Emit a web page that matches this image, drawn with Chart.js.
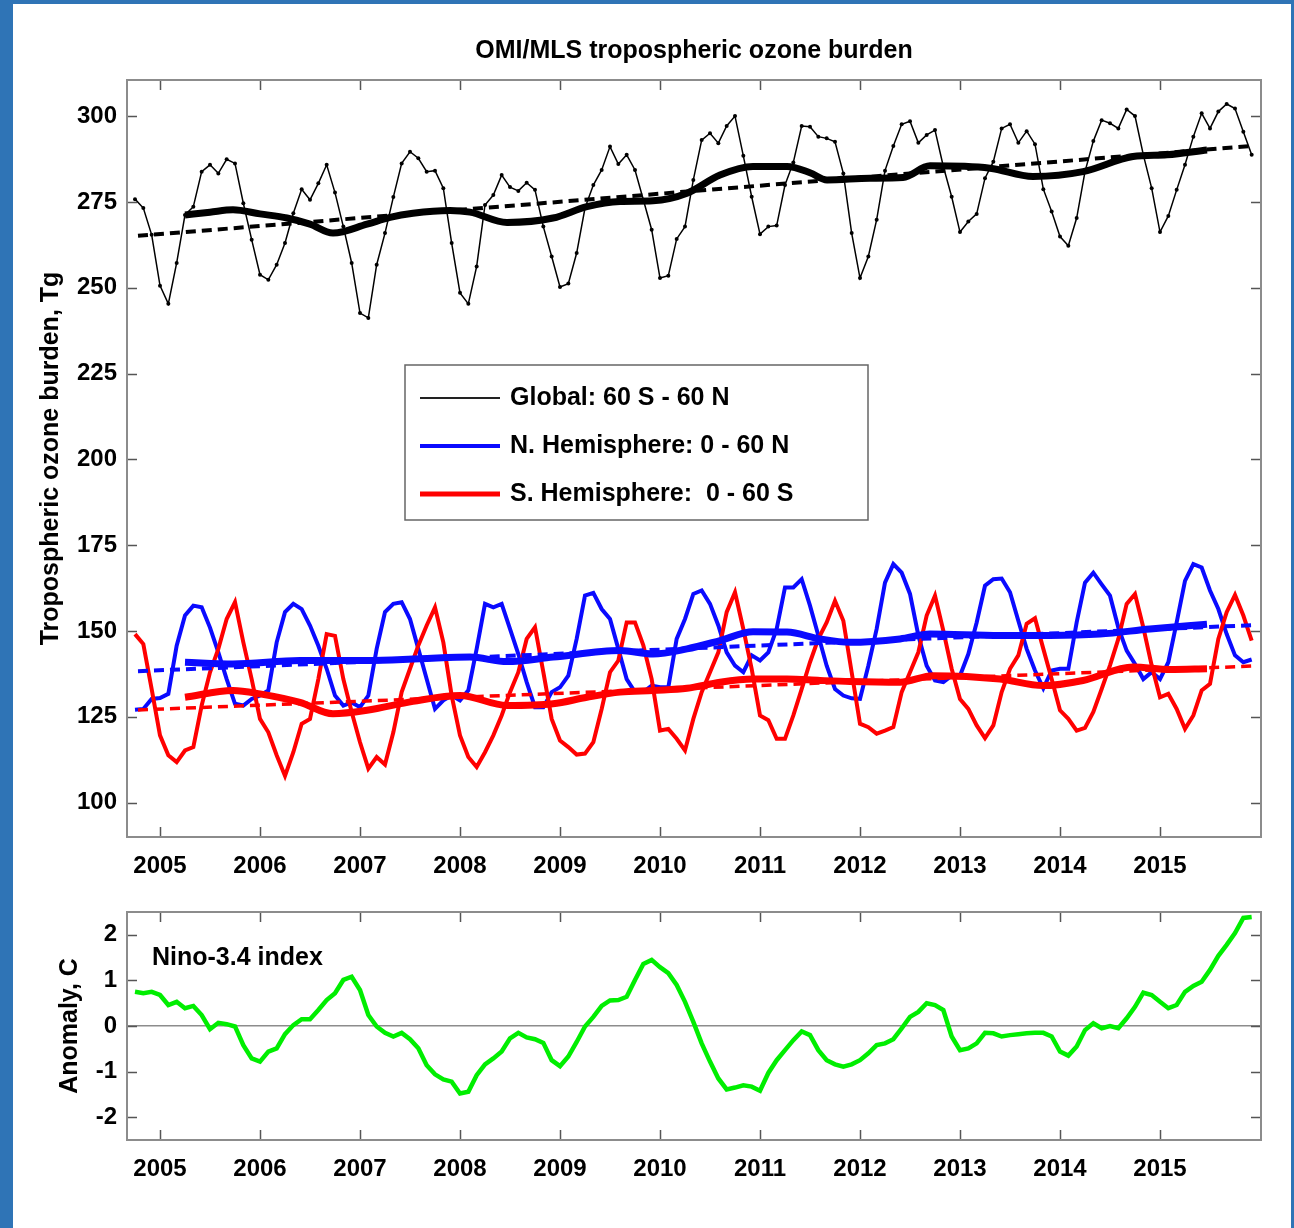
<!DOCTYPE html>
<html>
<head>
<meta charset="utf-8">
<title>OMI/MLS tropospheric ozone burden</title>
<script src="https://cdn.jsdelivr.net/npm/chart.js@4.4.1/dist/chart.umd.min.js"></script>
<style>
  html, body { margin: 0; padding: 0; }
  body { position: relative; width: 1294px; height: 1228px; background: #2f74b6; overflow: hidden; }
  #sheet { position: absolute; left: 13px; top: 4px; width: 1278px; height: 1224px; background: #fff; }
  canvas { position: absolute; left: 0; }
  #ozoneChart { top: 0; }
  #ninoChart { top: 880px; }
</style>
</head>
<body>
<div id="sheet"></div>
<canvas id="ozoneChart" width="1294" height="900"></canvas>
<canvas id="ninoChart" width="1294" height="348"></canvas>
<script>
// monthly values, Oct 2004 .. Dec 2015
const globalBurden = [
  275.8, 273.2, 265.4,
  250.6, 245.3, 257.2, 271.2, 273.6, 283.8, 285.8, 283.3, 287.4, 286.2, 274.6, 264.0,
  253.8, 252.3, 256.7, 263.0, 271.7, 278.7, 275.6, 280.4, 285.8, 277.7, 267.8, 257.2,
  242.6, 241.2, 256.7, 265.9, 276.4, 286.2, 289.6, 287.7, 283.8, 284.1, 279.0, 263.0,
  248.5, 245.3, 256.2, 274.1, 277.0, 282.8, 279.3, 278.2, 280.6, 278.5, 267.8, 259.1,
  250.2, 251.2, 260.1, 273.2, 279.9, 284.3, 291.1, 286.0, 288.7, 284.3, 275.6, 266.9,
  252.8, 253.5, 264.2, 267.8, 281.4, 293.0, 295.0, 292.1, 297.1, 300.0, 288.4, 276.5,
  265.6, 267.8, 268.1, 279.9, 286.5, 297.1, 296.9, 294.0, 293.5, 292.5, 283.3, 265.9,
  252.8, 259.1, 269.8, 284.1, 291.3, 297.6, 298.5, 292.2, 294.5, 295.9, 285.3, 276.5,
  266.2, 269.3, 271.5, 281.9, 286.7, 296.4, 297.6, 292.2, 295.6, 291.8, 278.7, 272.2,
  264.9, 262.2, 270.3, 283.8, 292.7, 298.8, 297.9, 296.4, 301.9, 300.0, 288.7, 279.0,
  266.2, 270.9, 278.5, 285.8, 294.0, 300.8, 296.4, 301.3, 303.5, 302.2, 295.4, 288.7
]

const nhBurden = [
  127.1, 127.3, 130.2,
  130.5, 131.7, 145.7, 154.5, 157.4, 156.9, 151.0, 143.8, 136.0, 128.8, 128.3, 130.2,
  131.2, 132.7, 146.7, 155.5, 157.9, 156.4, 151.6, 145.7, 139.0, 131.2, 128.3, 129.2,
  127.8, 131.2, 144.8, 155.5, 157.9, 158.4, 153.5, 144.8, 136.0, 127.3, 129.8, 131.2,
  129.8, 132.7, 144.8, 157.9, 156.9, 157.9, 150.6, 143.3, 135.1, 127.8, 127.8, 132.2,
  133.6, 137.0, 147.7, 160.3, 161.1, 156.4, 153.5, 144.8, 136.0, 132.2, 132.2, 134.1,
  133.6, 133.6, 147.7, 153.5, 160.8, 161.8, 157.9, 151.6, 143.8, 139.9, 138.0, 142.9,
  141.4, 143.8, 150.6, 162.7, 162.7, 165.1, 157.4, 148.7, 139.9, 133.1, 131.2, 130.4,
  130.2, 139.9, 150.6, 164.1, 169.5, 167.0, 160.8, 148.7, 139.9, 135.6, 135.1, 137.0,
  137.0, 143.3, 152.5, 163.2, 165.1, 165.3, 161.3, 153.0, 144.8, 138.5, 133.3, 138.5,
  139.0, 139.0, 152.5, 164.1, 167.0, 163.6, 160.3, 151.0, 144.3, 140.4, 136.0, 138.0,
  136.0, 140.9, 152.5, 164.6, 169.5, 168.5, 161.8, 156.4, 149.1, 142.9, 140.9, 141.7
]

const shBurden = [
  149.1, 146.2, 133.1,
  119.6, 113.8, 111.8, 115.2, 116.2, 128.3, 138.0, 144.8, 153.5, 158.4, 146.7, 136.0,
  124.4, 120.5, 113.8, 107.8, 114.7, 123.0, 124.4, 136.0, 149.1, 148.6, 136.0, 126.4,
  117.6, 109.9, 113.3, 111.1, 120.5, 132.2, 139.0, 145.8, 151.6, 156.9, 146.7, 131.2,
  119.6, 113.3, 110.4, 114.7, 119.6, 125.4, 132.2, 138.0, 147.7, 151.1, 138.0, 124.4,
  118.1, 116.2, 114.0, 114.3, 117.6, 127.3, 138.0, 141.4, 152.5, 152.5, 145.8, 136.0,
  121.0, 121.5, 118.6, 115.2, 124.4, 132.2, 138.0, 143.8, 155.5, 161.3, 150.6, 139.0,
  125.4, 124.0, 118.6, 118.6, 125.4, 133.1, 140.9, 147.7, 152.5, 158.8, 153.0, 138.0,
  123.0, 122.0, 120.1, 121.0, 122.0, 132.2, 138.0, 143.8, 154.5, 160.3, 150.1, 139.0,
  130.2, 127.3, 122.5, 118.8, 122.5, 132.2, 139.0, 142.9, 152.1, 153.7, 144.8, 136.0,
  126.9, 124.4, 121.0, 121.8, 126.4, 133.1, 140.0, 147.7, 157.9, 160.8, 151.0, 140.0,
  130.7, 131.7, 127.3, 121.5, 125.4, 132.7, 134.6, 147.7, 155.5, 160.5, 154.5, 147.2
]

const ninoIndex = [
  0.75, 0.72, 0.75,
  0.68, 0.46, 0.53, 0.39, 0.44, 0.24, -0.07, 0.07, 0.04, -0.01, -0.42, -0.71,
  -0.78, -0.56, -0.49, -0.18, 0.02, 0.15, 0.15, 0.35, 0.57, 0.72, 1.01, 1.08,
  0.79, 0.24, -0.01, -0.15, -0.23, -0.15, -0.29, -0.49, -0.86, -1.06, -1.17, -1.22,
  -1.48, -1.44, -1.08, -0.84, -0.71, -0.56, -0.27, -0.15, -0.25, -0.29, -0.37, -0.75,
  -0.88, -0.67, -0.35, -0.01, 0.20, 0.44, 0.56, 0.57, 0.64, 1.01, 1.36, 1.45,
  1.29, 1.16, 0.90, 0.53, 0.09, -0.38, -0.78, -1.15, -1.39, -1.35, -1.30, -1.33,
  -1.42, -1.03, -0.75, -0.53, -0.31, -0.12, -0.20, -0.53, -0.75, -0.84, -0.89, -0.84,
  -0.75, -0.60, -0.42, -0.38, -0.29, -0.05, 0.20, 0.31, 0.50, 0.46, 0.35, -0.23,
  -0.53, -0.49, -0.38, -0.15, -0.16, -0.23, -0.20, -0.18, -0.16, -0.15, -0.15, -0.23,
  -0.56, -0.65, -0.45, -0.09, 0.06, -0.05, 0.00, -0.05, 0.17, 0.42, 0.73, 0.68,
  0.53, 0.39, 0.46, 0.75, 0.88, 0.97, 1.23, 1.54, 1.78, 2.04, 2.37, 2.39
]

// 12-month running means (decimal year, Tg)
const globalMeanT = [2005.25, 2005.50, 2005.73, 2006.00, 2006.27, 2006.50, 2006.73, 2007.07, 2007.30, 2007.53, 2007.90, 2008.10, 2008.47, 2008.93, 2009.27, 2009.60, 2009.93, 2010.27, 2010.60, 2010.93, 2011.27, 2011.50, 2011.67, 2012.10, 2012.43, 2012.70, 2013.30, 2013.73, 2014.23, 2014.73, 2015.07, 2015.47]
const globalMeanV = [271.2, 272.0, 272.7, 271.5, 270.3, 268.5, 265.9, 268.5, 270.5, 271.7, 272.5, 272.0, 269.0, 270.3, 273.6, 275.1, 275.3, 277.5, 282.8, 285.3, 285.3, 283.5, 281.4, 281.9, 282.1, 285.5, 284.8, 282.4, 283.8, 288.2, 288.7, 290.1]
const nhMeanT = [2005.25, 2005.73, 2006.40, 2007.07, 2007.60, 2008.10, 2008.47, 2008.93, 2009.60, 2009.93, 2010.27, 2010.60, 2010.93, 2011.27, 2011.60, 2011.90, 2012.40, 2012.70, 2013.40, 2013.90, 2014.40, 2014.90, 2015.47]
const nhMeanV = [140.9, 140.4, 141.4, 141.4, 141.9, 142.4, 141.1, 142.4, 144.3, 143.3, 144.8, 147.2, 149.8, 149.7, 147.7, 146.7, 147.7, 149.1, 148.7, 148.7, 149.1, 150.6, 152.0]
const shMeanT = [2005.25, 2005.73, 2006.00, 2006.40, 2006.73, 2007.07, 2007.53, 2008.00, 2008.47, 2008.93, 2009.27, 2009.60, 2009.93, 2010.27, 2010.60, 2010.93, 2011.27, 2011.60, 2011.90, 2012.40, 2012.73, 2013.40, 2013.83, 2014.23, 2014.73, 2015.10, 2015.47]
const shMeanV = [130.7, 132.7, 131.7, 129.2, 125.9, 126.9, 129.5, 131.2, 128.3, 128.8, 130.7, 132.2, 132.7, 133.3, 135.1, 136.0, 136.0, 135.6, 135.3, 135.1, 137.0, 136.0, 134.1, 135.6, 139.5, 138.8, 139.0]

// linear trends, end points (decimal year, Tg)
const globalTrend = [[2004.78, 265.1], [2015.92, 291.3]]
const nhTrend = [[2004.78, 138.3], [2015.93, 151.7]]
const shTrend = [[2004.78, 127.0], [2015.93, 139.8]]

const yearTicks = [2005, 2006, 2007, 2008, 2009, 2010, 2011, 2012, 2013, 2014, 2015]
const ozoneTicks = [100, 125, 150, 175, 200, 225, 250, 275, 300]
const ninoTicks = [-2, -1, 0, 1, 2]

const FONT = '"Liberation Sans", Arial, Helvetica, sans-serif'
Chart.defaults.font.family = FONT
Chart.defaults.font.weight = 'bold'
Chart.defaults.color = '#000'

// month positions as decimal years, first one is Oct 2004
const firstMonth = 2004 + 9 / 12
const months = globalBurden.map((v, i) => firstMonth + i / 12)
const monthly = vals => vals.map((v, i) => ({x: months[i], y: v}))
const pairs = (t, v) => t.map((x, i) => ({x: x, y: v[i]}))
const ends = p => p.map(([x, y]) => ({x: x, y: y}))

// box round the plot with inward ticks on all four sides
const boxTicks = {
  id: 'boxTicks',
  afterDraw(chart) {
    const {ctx, chartArea: a, scales: {x, y}} = chart
    ctx.save()
    ctx.strokeStyle = '#555'
    ctx.lineWidth = 1.5
    ctx.beginPath()
    x.ticks.forEach(t => {
      const px = Math.round(x.getPixelForValue(t.value)) + 0.5
      ctx.moveTo(px, a.bottom); ctx.lineTo(px, a.bottom - 10)
      ctx.moveTo(px, a.top); ctx.lineTo(px, a.top + 10)
    })
    y.ticks.forEach(t => {
      const py = Math.round(y.getPixelForValue(t.value)) + 0.5
      ctx.moveTo(a.left, py); ctx.lineTo(a.left + 10, py)
      ctx.moveTo(a.right, py); ctx.lineTo(a.right - 10, py)
    })
    ctx.stroke()
    ctx.strokeStyle = '#8c8c8c'
    ctx.lineWidth = 2
    ctx.strokeRect(a.left, a.top, a.right - a.left, a.bottom - a.top)
    ctx.restore()
  }
}

// free text (chart title, panel label)
const caption = {
  id: 'caption',
  afterDraw(chart, args, opts) {
    const {ctx, chartArea: a} = chart
    ctx.save()
    ctx.font = 'bold ' + opts.size + 'px ' + FONT
    ctx.fillStyle = '#000'
    ctx.textBaseline = 'middle'
    ctx.textAlign = opts.align || 'center'
    const x = opts.x == null ? (a.left + a.right) / 2 : opts.x
    ctx.fillText(opts.text, x, opts.y)
    ctx.restore()
  }
}

// legend box inside the upper panel
const legendBox = {
  id: 'legendBox',
  afterDraw(chart, args, opts) {
    const ctx = chart.ctx
    const items = chart.data.datasets.filter(ds => ds.legend)
    ctx.save()
    ctx.fillStyle = '#fff'
    ctx.fillRect(opts.x, opts.y, opts.w, opts.h)
    ctx.strokeStyle = '#666'
    ctx.lineWidth = 1.5
    ctx.strokeRect(opts.x, opts.y, opts.w, opts.h)
    ctx.font = 'bold 25px ' + FONT
    ctx.textBaseline = 'middle'
    ctx.textAlign = 'left'
    items.forEach((ds, i) => {
      const cy = opts.y + 33 + i * 48
      ctx.strokeStyle = ds.legendColor || ds.borderColor
      ctx.lineWidth = ds.legendWidth
      ctx.beginPath()
      ctx.moveTo(opts.x + 15, cy)
      ctx.lineTo(opts.x + 95, cy)
      ctx.stroke()
      ctx.fillStyle = '#000'
      ctx.fillText(ds.label, opts.x + 105, cy)
    })
    ctx.restore()
  }
}

const xScale = (height) => ({
  type: 'linear',
  min: 2004.67,
  max: 2016.01,
  afterBuildTicks: s => { s.ticks = yearTicks.map(v => ({value: v})) },
  afterFit: s => { s.height = height },
  grid: {display: false, drawTicks: false},
  border: {display: false},
  ticks: {font: {size: 24}, padding: 15, maxRotation: 0, autoSkip: false, callback: v => String(v)}
})

// chart ozone burden START
const ozoneData = {
  datasets: [
    {
      label: 'Global: 60 S - 60 N', legend: true, legendWidth: 2, legendColor: '#222',
      data: monthly(globalBurden),
      borderColor: '#000', borderWidth: 1.5,
      pointRadius: 2, pointBackgroundColor: '#000', pointBorderWidth: 0,
      order: 9
    },
    {
      label: 'Global mean', data: pairs(globalMeanT, globalMeanV),
      borderColor: '#000', borderWidth: 7, pointRadius: 0,
      cubicInterpolationMode: 'monotone', order: 2
    },
    {
      label: 'Global trend', data: ends(globalTrend),
      borderColor: '#000', borderWidth: 4, borderDash: [10, 6], pointRadius: 0, order: 3
    },
    {
      label: 'N. Hemisphere: 0 - 60 N', legend: true, legendWidth: 4,
      data: monthly(nhBurden),
      borderColor: '#0a0aff', borderWidth: 4, pointRadius: 0, order: 8
    },
    {
      label: 'NH mean', data: pairs(nhMeanT, nhMeanV),
      borderColor: '#0a0aff', borderWidth: 7, pointRadius: 0,
      cubicInterpolationMode: 'monotone', order: 5
    },
    {
      label: 'NH trend', data: ends(nhTrend),
      borderColor: '#0a0aff', borderWidth: 4, borderDash: [10, 6], pointRadius: 0, order: 6
    },
    {
      label: 'S. Hemisphere:  0 - 60 S', legend: true, legendWidth: 5,
      data: monthly(shBurden),
      borderColor: '#ff0000', borderWidth: 4, pointRadius: 0, order: 7
    },
    {
      label: 'SH mean', data: pairs(shMeanT, shMeanV),
      borderColor: '#ff0000', borderWidth: 7, pointRadius: 0,
      cubicInterpolationMode: 'monotone', order: 4
    },
    {
      label: 'SH trend', data: ends(shTrend),
      borderColor: '#ff0000', borderWidth: 3.5, borderDash: [10, 6], pointRadius: 0, order: 6
    }
  ]
}

const ozoneConfig = {
  type: 'line',
  data: ozoneData,
  options: {
    responsive: false,
    animation: false,
    events: [],
    layout: {padding: {left: 0, top: 80, right: 33, bottom: 0}},
    scales: {
      x: xScale(63),
      y: {
        min: 90,
        max: 310.5,
        afterBuildTicks: s => { s.ticks = ozoneTicks.map(v => ({value: v})) },
        afterFit: s => { s.width = 127 },
        grid: {display: false, drawTicks: false},
        border: {display: false},
        ticks: {font: {size: 24}, padding: 10, callback: v => String(v)},
        title: {display: true, text: 'Tropospheric ozone burden, Tg', font: {size: 25, weight: 'bold'}, padding: {top: 36}}
      }
    },
    plugins: {
      legend: {display: false},
      tooltip: {enabled: false},
      caption: {text: 'OMI/MLS tropospheric ozone burden', size: 25, y: 51},
      legendBox: {x: 405, y: 365, w: 463, h: 155}
    }
  },
  plugins: [boxTicks, caption, legendBox]
}

const ozoneChart = new Chart(document.getElementById('ozoneChart'), ozoneConfig)
// chart ozone burden END

// chart Nino-3.4 START
const ninoConfig = {
  type: 'line',
  data: {
    datasets: [{
      label: 'Nino-3.4 index',
      data: monthly(ninoIndex),
      borderColor: '#00ee00', borderWidth: 4.5, pointRadius: 0
    }]
  },
  options: {
    responsive: false,
    animation: false,
    events: [],
    layout: {padding: {left: 0, top: 32, right: 33, bottom: 0}},
    scales: {
      x: xScale(88),
      y: {
        min: -2.5,
        max: 2.5,
        afterBuildTicks: s => { s.ticks = ninoTicks.map(v => ({value: v})) },
        afterFit: s => { s.width = 127 },
        grid: {
          drawTicks: false,
          lineWidth: 1.5,
          color: c => (c.tick && c.tick.value === 0 ? '#8c8c8c' : 'rgba(0,0,0,0)')
        },
        border: {display: false},
        ticks: {font: {size: 24}, padding: 10, callback: v => String(v)},
        title: {display: true, text: 'Anomaly, C', font: {size: 25, weight: 'bold'}, padding: {top: 55}}
      }
    },
    plugins: {
      legend: {display: false},
      tooltip: {enabled: false},
      caption: {text: 'Nino-3.4 index', size: 25, x: 152, y: 78, align: 'left'}
    }
  },
  plugins: [boxTicks, caption]
}

const ninoChart = new Chart(document.getElementById('ninoChart'), ninoConfig)
// chart Nino-3.4 END
</script>
</body>
</html>
